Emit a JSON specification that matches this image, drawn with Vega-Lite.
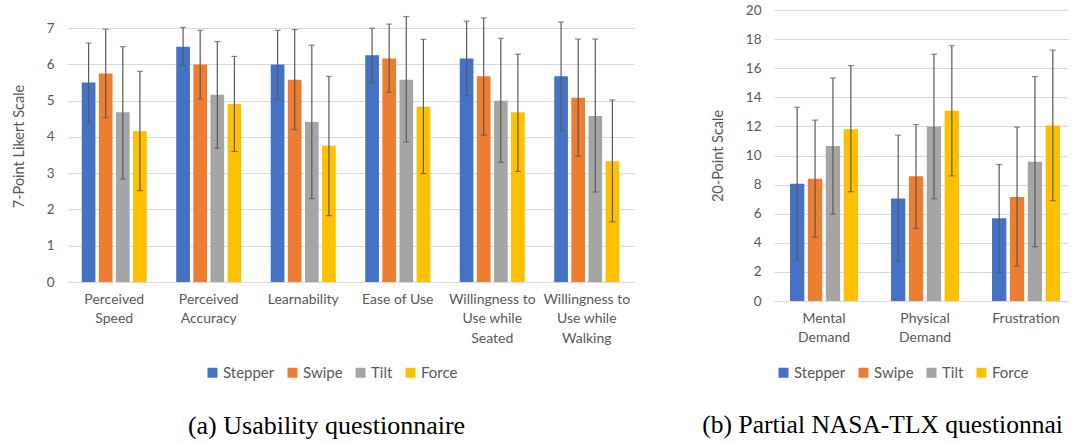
{
  "$schema": "https://vega.github.io/schema/vega-lite/v6.json",
  "padding": {"left": 11, "top": 3, "right": 0, "bottom": 0},
  "autosize": {"type": "pad"},
  "config": {
    "view": {"stroke": null},
    "font": "Lato",
    "axis": {"labelFont": "Lato", "titleFont": "Lato", "labelColor": "#595959", "titleColor": "#595959", "titleFontWeight": "normal", "ticks": false, "domain": false, "gridColor": "#d9d9d9", "gridWidth": 1},
    "axisY": {"titleFontSize": 14.5, "labelFontSize": 13.5, "labelPadding": 13, "titlePadding": 20, "grid": true, "labelOverlap": false},
    "legend": {"orient": "none", "direction": "horizontal", "title": null, "symbolType": "square", "symbolSize": 100, "symbolStrokeWidth": 0, "labelFontSize": 15, "labelColor": "#595959", "labelFont": "Lato", "columnPadding": 10, "labelOffset": 3}
  },
  "datasets": {
    "usability": [
      {"measure": "Perceived Speed", "technique": "Stepper", "mean": 5.50, "lo": 4.41, "hi": 6.59},
      {"measure": "Perceived Speed", "technique": "Swipe", "mean": 5.75, "lo": 4.53, "hi": 6.97},
      {"measure": "Perceived Speed", "technique": "Tilt", "mean": 4.68, "lo": 2.84, "hi": 6.49},
      {"measure": "Perceived Speed", "technique": "Force", "mean": 4.16, "lo": 2.52, "hi": 5.81},
      {"measure": "Perceived Accuracy", "technique": "Stepper", "mean": 6.49, "lo": 5.97, "hi": 7.02},
      {"measure": "Perceived Accuracy", "technique": "Swipe", "mean": 6.00, "lo": 5.05, "hi": 6.94},
      {"measure": "Perceived Accuracy", "technique": "Tilt", "mean": 5.16, "lo": 3.69, "hi": 6.63},
      {"measure": "Perceived Accuracy", "technique": "Force", "mean": 4.91, "lo": 3.60, "hi": 6.22},
      {"measure": "Learnability", "technique": "Stepper", "mean": 6.00, "lo": 5.04, "hi": 6.94},
      {"measure": "Learnability", "technique": "Swipe", "mean": 5.58, "lo": 4.20, "hi": 6.96},
      {"measure": "Learnability", "technique": "Tilt", "mean": 4.41, "lo": 2.30, "hi": 6.53},
      {"measure": "Learnability", "technique": "Force", "mean": 3.76, "lo": 1.83, "hi": 5.67},
      {"measure": "Ease of Use", "technique": "Stepper", "mean": 6.25, "lo": 5.50, "hi": 7.00},
      {"measure": "Ease of Use", "technique": "Swipe", "mean": 6.16, "lo": 5.23, "hi": 7.11},
      {"measure": "Ease of Use", "technique": "Tilt", "mean": 5.58, "lo": 3.86, "hi": 7.32},
      {"measure": "Ease of Use", "technique": "Force", "mean": 4.83, "lo": 2.99, "hi": 6.69},
      {"measure": "Willingness to Use while Seated", "technique": "Stepper", "mean": 6.16, "lo": 5.14, "hi": 7.19},
      {"measure": "Willingness to Use while Seated", "technique": "Swipe", "mean": 5.67, "lo": 4.05, "hi": 7.28},
      {"measure": "Willingness to Use while Seated", "technique": "Tilt", "mean": 5.00, "lo": 3.30, "hi": 6.72},
      {"measure": "Willingness to Use while Seated", "technique": "Force", "mean": 4.68, "lo": 3.05, "hi": 6.28},
      {"measure": "Willingness to Use while Walking", "technique": "Stepper", "mean": 5.67, "lo": 4.17, "hi": 7.17},
      {"measure": "Willingness to Use while Walking", "technique": "Swipe", "mean": 5.08, "lo": 3.47, "hi": 6.70},
      {"measure": "Willingness to Use while Walking", "technique": "Tilt", "mean": 4.58, "lo": 2.48, "hi": 6.70},
      {"measure": "Willingness to Use while Walking", "technique": "Force", "mean": 3.33, "lo": 1.66, "hi": 5.02}
    ],
    "tlx": [
      {"measure": "Mental Demand", "technique": "Stepper", "mean": 8.05, "lo": 2.84, "hi": 13.32},
      {"measure": "Mental Demand", "technique": "Swipe", "mean": 8.40, "lo": 4.39, "hi": 12.43},
      {"measure": "Mental Demand", "technique": "Tilt", "mean": 10.66, "lo": 5.97, "hi": 15.33},
      {"measure": "Mental Demand", "technique": "Force", "mean": 11.81, "lo": 7.51, "hi": 16.18},
      {"measure": "Physical Demand", "technique": "Stepper", "mean": 7.05, "lo": 2.75, "hi": 11.40},
      {"measure": "Physical Demand", "technique": "Swipe", "mean": 8.58, "lo": 4.99, "hi": 12.13},
      {"measure": "Physical Demand", "technique": "Tilt", "mean": 11.99, "lo": 7.03, "hi": 16.96},
      {"measure": "Physical Demand", "technique": "Force", "mean": 13.07, "lo": 8.60, "hi": 17.55},
      {"measure": "Frustration", "technique": "Stepper", "mean": 5.68, "lo": 1.95, "hi": 9.38},
      {"measure": "Frustration", "technique": "Swipe", "mean": 7.14, "lo": 2.40, "hi": 11.95},
      {"measure": "Frustration", "technique": "Tilt", "mean": 9.57, "lo": 3.73, "hi": 15.42},
      {"measure": "Frustration", "technique": "Force", "mean": 12.06, "lo": 6.89, "hi": 17.25}
    ]
  },
  "spacing": 68,
  "resolve": {"scale": {"x": "independent", "y": "independent", "xOffset": "independent"}, "legend": {"color": "independent"}},
  "hconcat": [
    {
      "width": 567,
      "height": 272,
      "data": {"name": "usability"},
      "title": {"text": "(a) Usability questionnaire", "orient": "bottom", "dx": -24, "font": "Liberation Serif", "fontSize": 26, "fontWeight": "normal", "color": "#000000", "offset": 32},
      "encoding": {
        "x": {"field": "measure", "type": "nominal", "sort": null, "scale": {"paddingInner": 0.312, "paddingOuter": 0.156},
          "axis": {"title": null, "labelAngle": 0, "labelFontSize": 14, "labelPadding": 10, "labelLineHeight": 19.5, "domain": true, "domainColor": "#d9d9d9",
            "labelExpr": "indexof(datum.label, 'Willingness') == 0 ? ['Willingness to', 'Use while', substring(datum.label, 25)] : (datum.label == 'Ease of Use' ? datum.label : split(datum.label, ' '))"}},
        "xOffset": {"field": "technique", "type": "nominal", "sort": ["Stepper", "Swipe", "Tilt", "Force"], "scale": {"domain": ["Stepper", "Swipe", "Tilt", "Force"], "paddingInner": 0.2, "paddingOuter": 0}}
      },
      "layer": [
        {
          "mark": {"type": "bar"},
          "encoding": {
            "y": {"field": "mean", "type": "quantitative", "scale": {"domain": [0, 7.5], "nice": false},
              "axis": {"values": [0, 1, 2, 3, 4, 5, 6, 7], "title": "7-Point Likert Scale"}},
            "color": {"field": "technique", "type": "nominal", "sort": ["Stepper", "Swipe", "Tilt", "Force"],
              "scale": {"domain": ["Stepper", "Swipe", "Tilt", "Force"], "range": ["#4472C4", "#ED7D31", "#A5A5A5", "#FFC000"]},
              "legend": {"legendX": 138, "legendY": 355}}
          }
        },
        {
          "mark": {"type": "rule", "color": "#595959", "strokeWidth": 1.2},
          "encoding": {"y": {"field": "lo", "type": "quantitative", "axis": {"values": [0, 1, 2, 3, 4, 5, 6, 7], "title": "7-Point Likert Scale"}}, "y2": {"field": "hi"}}
        },
        {
          "mark": {"type": "tick", "color": "#595959", "size": 6, "thickness": 1.2},
          "encoding": {"y": {"field": "lo", "type": "quantitative", "axis": {"values": [0, 1, 2, 3, 4, 5, 6, 7], "title": "7-Point Likert Scale"}}}
        },
        {
          "mark": {"type": "tick", "color": "#595959", "size": 6, "thickness": 1.2},
          "encoding": {"y": {"field": "hi", "type": "quantitative", "axis": {"values": [0, 1, 2, 3, 4, 5, 6, 7], "title": "7-Point Likert Scale"}}}
        }
      ]
    },
    {
      "width": 295,
      "height": 291,
      "data": {"name": "tlx"},
      "title": {"text": "(b) Partial NASA-TLX questionnai", "orient": "bottom", "anchor": "start", "dx": -8, "font": "Liberation Serif", "fontSize": 25.5, "fontWeight": "normal", "color": "#000000", "offset": 32},
      "encoding": {
        "x": {"field": "measure", "type": "nominal", "sort": null, "scale": {"paddingInner": 0.327, "paddingOuter": 0.124, "align": 0.64},
          "axis": {"title": null, "labelAngle": 0, "labelFontSize": 14, "labelPadding": 10, "labelLineHeight": 19.5, "domain": true, "domainColor": "#d9d9d9",
            "labelExpr": "split(datum.label, ' ')"}},
        "xOffset": {"field": "technique", "type": "nominal", "sort": ["Stepper", "Swipe", "Tilt", "Force"], "scale": {"domain": ["Stepper", "Swipe", "Tilt", "Force"], "paddingInner": 0.2, "paddingOuter": 0}}
      },
      "layer": [
        {
          "mark": {"type": "bar"},
          "encoding": {
            "y": {"field": "mean", "type": "quantitative", "scale": {"domain": [0, 20], "nice": false},
              "axis": {"values": [0, 2, 4, 6, 8, 10, 12, 14, 16, 18, 20], "title": "20-Point Scale"}},
            "color": {"field": "technique", "type": "nominal", "sort": ["Stepper", "Swipe", "Tilt", "Force"],
              "scale": {"domain": ["Stepper", "Swipe", "Tilt", "Force"], "range": ["#4472C4", "#ED7D31", "#A5A5A5", "#FFC000"]},
              "legend": {"legendX": 2, "legendY": 355}}
          }
        },
        {
          "mark": {"type": "rule", "color": "#595959", "strokeWidth": 1.2},
          "encoding": {"y": {"field": "lo", "type": "quantitative", "axis": {"values": [0, 2, 4, 6, 8, 10, 12, 14, 16, 18, 20], "title": "20-Point Scale"}}, "y2": {"field": "hi"}}
        },
        {
          "mark": {"type": "tick", "color": "#595959", "size": 6, "thickness": 1.2},
          "encoding": {"y": {"field": "lo", "type": "quantitative", "axis": {"values": [0, 2, 4, 6, 8, 10, 12, 14, 16, 18, 20], "title": "20-Point Scale"}}}
        },
        {
          "mark": {"type": "tick", "color": "#595959", "size": 6, "thickness": 1.2},
          "encoding": {"y": {"field": "hi", "type": "quantitative", "axis": {"values": [0, 2, 4, 6, 8, 10, 12, 14, 16, 18, 20], "title": "20-Point Scale"}}}
        }
      ]
    }
  ]
}
